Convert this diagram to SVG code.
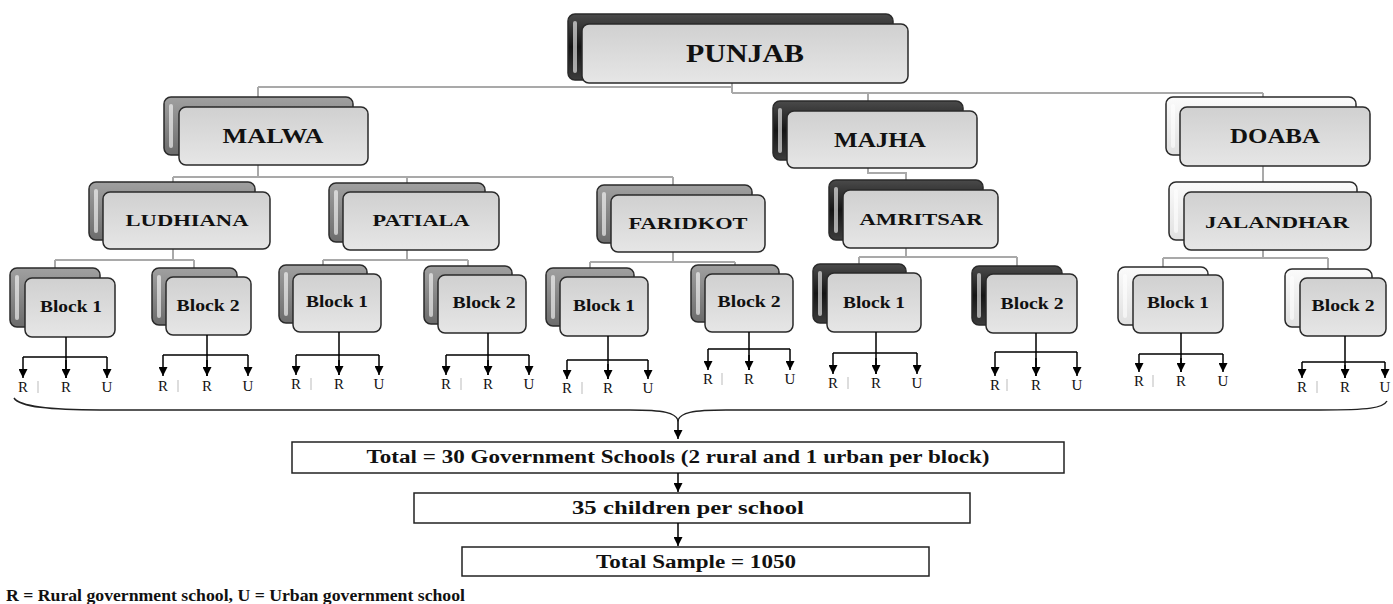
<svg xmlns="http://www.w3.org/2000/svg" width="1393" height="604" viewBox="0 0 1393 604">
<defs>
<linearGradient id="gDark" x1="0" y1="0" x2="0" y2="1"><stop offset="0" stop-color="#4a4a4a"/><stop offset="0.5" stop-color="#151515"/><stop offset="1" stop-color="#3c3c3c"/></linearGradient>
<linearGradient id="gMid" x1="0" y1="0" x2="0" y2="1"><stop offset="0" stop-color="#a0a0a0"/><stop offset="1" stop-color="#6c6c6c"/></linearGradient>
<linearGradient id="gLight" x1="0" y1="0" x2="0" y2="1"><stop offset="0" stop-color="#fbfbfb"/><stop offset="1" stop-color="#e0e0e0"/></linearGradient>
<linearGradient id="gFront" x1="0" y1="0" x2="0" y2="1"><stop offset="0" stop-color="#d0d0d0"/><stop offset="1" stop-color="#e6e6e6"/></linearGradient>
<marker id="ah" viewBox="0 0 10 10" refX="10" refY="5" markerWidth="9" markerHeight="9" orient="auto" markerUnits="userSpaceOnUse"><path d="M0,0 L10,5 L0,10 z" fill="#000"/></marker>
</defs>
<style>
.back{stroke:#2a2a2a;stroke-width:1.5}
.dark{fill:url(#gDark)}
.mid{fill:url(#gMid)}
.light{fill:url(#gLight)}
.hl{fill:#ffffff;opacity:0.6}
.front{fill:url(#gFront);stroke:#2a2a2a;stroke-width:1.5}
.t{font-family:"Liberation Serif","Times New Roman",serif;font-weight:bold;fill:#111;text-anchor:middle}
.b{font-size:16.5px}
.conn{fill:none;stroke:#a9a9a9;stroke-width:2}
.arr{fill:none;stroke:#000;stroke-width:1.5}
.lbl{font-family:"Liberation Serif","Times New Roman",serif;font-size:15px;fill:#111;text-anchor:middle}
.cur{stroke:#bbbbbb;stroke-width:1}
.box{fill:#fff;stroke:#222;stroke-width:1.5}
</style>
<rect width="1393" height="604" fill="#fff"/>

<g id="connectors">
<path class="conn" d="M732,83V93M258,87H732M732,93H1263M258,87V97M868,93V101M1263,93V97"/>
<path class="conn" d="M258,165V177M173,177H673M173,177V182M407,177V183M673,177V185"/>
<path class="conn" d="M868,168V173H906V180"/>
<path class="conn" d="M1263,166V182"/>
<path class="conn" d="M173,249V260M55,260H194M55,260V268M194,260V268"/>
<path class="conn" d="M407,250V260M323,260H468M323,260V265M468,260V266"/>
<path class="conn" d="M673,252V262M590,262H735M590,262V268M735,262V265"/>
<path class="conn" d="M906,248V257M859,257H1017M859,257V264M1017,257V266"/>
<path class="conn" d="M1263,250V258M1163,258H1328M1163,258V267M1328,258V269"/>
</g>

<g id="punjab"><rect class="back dark" x="568" y="14" width="325" height="66" rx="7"/><rect class="hl" x="573" y="21" width="4" height="52" rx="2"/><rect class="front" x="582" y="24" width="326" height="59" rx="7"/><text class="t" x="745" y="62" font-size="25" textLength="118" lengthAdjust="spacingAndGlyphs">PUNJAB</text></g>

<g id="malwa"><rect class="back mid" x="164" y="97" width="189" height="58" rx="7"/><rect class="hl" x="169" y="104" width="4" height="44" rx="2"/><rect class="front" x="179" y="107" width="189" height="58" rx="7"/><text class="t" x="273" y="143" font-size="20" textLength="101" lengthAdjust="spacingAndGlyphs">MALWA</text></g>
<g id="majha"><rect class="back dark" x="773" y="101" width="190" height="59" rx="7"/><rect class="hl" x="778" y="108" width="4" height="45" rx="2"/><rect class="front" x="787" y="111" width="190" height="57" rx="7"/><text class="t" x="880" y="147" font-size="20" textLength="92" lengthAdjust="spacingAndGlyphs">MAJHA</text></g>
<g id="doaba"><rect class="back light" x="1166" y="97" width="190" height="58" rx="7"/><rect class="hl" x="1171" y="104" width="4" height="44" rx="2"/><rect class="front" x="1180" y="107" width="190" height="59" rx="7"/><text class="t" x="1275" y="143" font-size="20" textLength="90" lengthAdjust="spacingAndGlyphs">DOABA</text></g>

<g id="ludhiana"><rect class="back mid" x="89" y="182" width="166" height="58" rx="7"/><rect class="hl" x="94" y="189" width="4" height="44" rx="2"/><rect class="front" x="103" y="192" width="167" height="57" rx="7"/><text class="t" x="187" y="226" font-size="17.5" textLength="123" lengthAdjust="spacingAndGlyphs">LUDHIANA</text></g>
<g id="patiala"><rect class="back mid" x="329" y="183" width="156" height="59" rx="7"/><rect class="hl" x="334" y="190" width="4" height="45" rx="2"/><rect class="front" x="343" y="192" width="156" height="58" rx="7"/><text class="t" x="421" y="226" font-size="17.5" textLength="97" lengthAdjust="spacingAndGlyphs">PATIALA</text></g>
<g id="faridkot"><rect class="back mid" x="597" y="185" width="155" height="58" rx="7"/><rect class="hl" x="602" y="192" width="4" height="44" rx="2"/><rect class="front" x="611" y="195" width="154" height="57" rx="7"/><text class="t" x="688" y="229" font-size="17.5" textLength="119" lengthAdjust="spacingAndGlyphs">FARIDKOT</text></g>
<g id="amritsar"><rect class="back dark" x="829" y="180" width="154" height="60" rx="7"/><rect class="hl" x="834" y="187" width="4" height="46" rx="2"/><rect class="front" x="843" y="190" width="155" height="58" rx="7"/><text class="t" x="921" y="225" font-size="17.5" textLength="123" lengthAdjust="spacingAndGlyphs">AMRITSAR</text></g>
<g id="jalandhar"><rect class="back light" x="1169" y="182" width="188" height="58" rx="7"/><rect class="hl" x="1174" y="189" width="4" height="44" rx="2"/><rect class="front" x="1184" y="192" width="187" height="58" rx="7"/><text class="t" x="1277" y="228" font-size="17.5" textLength="144" lengthAdjust="spacingAndGlyphs">JALANDHAR</text></g>

<g id="ludhiana-block1"><rect class="back mid" x="10" y="268" width="90" height="59" rx="7"/><rect class="hl" x="15" y="275" width="4" height="45" rx="2"/><rect class="front" x="25" y="278" width="90" height="59" rx="7"/><text class="t b" x="71" y="312" textLength="62" lengthAdjust="spacingAndGlyphs">Block 1</text></g>
<g id="ludhiana-block2"><rect class="back mid" x="152" y="268" width="85" height="57" rx="7"/><rect class="hl" x="157" y="275" width="4" height="43" rx="2"/><rect class="front" x="166" y="277" width="85" height="58" rx="7"/><text class="t b" x="208" y="311" textLength="63" lengthAdjust="spacingAndGlyphs">Block 2</text></g>
<g id="patiala-block1"><rect class="back mid" x="279" y="265" width="88" height="58" rx="7"/><rect class="hl" x="284" y="272" width="4" height="44" rx="2"/><rect class="front" x="293" y="274" width="88" height="58" rx="7"/><text class="t b" x="337" y="307" textLength="62" lengthAdjust="spacingAndGlyphs">Block 1</text></g>
<g id="patiala-block2"><rect class="back mid" x="424" y="266" width="88" height="58" rx="7"/><rect class="hl" x="429" y="273" width="4" height="44" rx="2"/><rect class="front" x="438" y="275" width="88" height="58" rx="7"/><text class="t b" x="484" y="308" textLength="63" lengthAdjust="spacingAndGlyphs">Block 2</text></g>
<g id="faridkot-block1"><rect class="back mid" x="546" y="268" width="88" height="58" rx="7"/><rect class="hl" x="551" y="275" width="4" height="44" rx="2"/><rect class="front" x="560" y="277" width="88" height="59" rx="7"/><text class="t b" x="604" y="311" textLength="62" lengthAdjust="spacingAndGlyphs">Block 1</text></g>
<g id="faridkot-block2"><rect class="back mid" x="691" y="265" width="88" height="57" rx="7"/><rect class="hl" x="696" y="272" width="4" height="43" rx="2"/><rect class="front" x="705" y="274" width="88" height="58" rx="7"/><text class="t b" x="749" y="307" textLength="63" lengthAdjust="spacingAndGlyphs">Block 2</text></g>
<g id="amritsar-block1"><rect class="back dark" x="813" y="264" width="93" height="59" rx="7"/><rect class="hl" x="818" y="271" width="4" height="45" rx="2"/><rect class="front" x="827" y="273" width="94" height="59" rx="7"/><text class="t b" x="874" y="308" textLength="62" lengthAdjust="spacingAndGlyphs">Block 1</text></g>
<g id="amritsar-block2"><rect class="back dark" x="972" y="266" width="90" height="59" rx="7"/><rect class="hl" x="977" y="273" width="4" height="45" rx="2"/><rect class="front" x="986" y="274" width="91" height="59" rx="7"/><text class="t b" x="1032" y="309" textLength="63" lengthAdjust="spacingAndGlyphs">Block 2</text></g>
<g id="jalandhar-block1"><rect class="back light" x="1118" y="267" width="90" height="58" rx="7"/><rect class="hl" x="1123" y="274" width="4" height="44" rx="2"/><rect class="front" x="1133" y="275" width="90" height="58" rx="7"/><text class="t b" x="1178" y="308" textLength="62" lengthAdjust="spacingAndGlyphs">Block 1</text></g>
<g id="jalandhar-block2"><rect class="back light" x="1285" y="269" width="87" height="58" rx="7"/><rect class="hl" x="1290" y="276" width="4" height="44" rx="2"/><rect class="front" x="1300" y="278" width="86" height="58" rx="7"/><text class="t b" x="1343" y="311" textLength="63" lengthAdjust="spacingAndGlyphs">Block 2</text></g>

<g id="school-arrows">
<path class="arr" d="M23,357H107M66,337V378"/><path class="arr" marker-end="url(#ah)" d="M23,357V378"/><path class="arr" marker-end="url(#ah)" d="M66,360V378"/><path class="arr" marker-end="url(#ah)" d="M107,357V378"/>
<path class="arr" d="M163,355H248M207,335V376"/><path class="arr" marker-end="url(#ah)" d="M163,355V376"/><path class="arr" marker-end="url(#ah)" d="M207,360V376"/><path class="arr" marker-end="url(#ah)" d="M248,355V376"/>
<path class="arr" d="M296,355H379M339,332V375"/><path class="arr" marker-end="url(#ah)" d="M296,355V375"/><path class="arr" marker-end="url(#ah)" d="M339,360V375"/><path class="arr" marker-end="url(#ah)" d="M379,355V375"/>
<path class="arr" d="M446,355H529M488,333V375"/><path class="arr" marker-end="url(#ah)" d="M446,355V375"/><path class="arr" marker-end="url(#ah)" d="M488,360V375"/><path class="arr" marker-end="url(#ah)" d="M529,355V375"/>
<path class="arr" d="M567,360H648M608,336V379"/><path class="arr" marker-end="url(#ah)" d="M567,360V379"/><path class="arr" marker-end="url(#ah)" d="M608,364V379"/><path class="arr" marker-end="url(#ah)" d="M648,360V379"/>
<path class="arr" d="M708,349H790M749,332V370"/><path class="arr" marker-end="url(#ah)" d="M708,349V370"/><path class="arr" marker-end="url(#ah)" d="M749,355V370"/><path class="arr" marker-end="url(#ah)" d="M790,349V370"/>
<path class="arr" d="M833,353H917M876,332V374"/><path class="arr" marker-end="url(#ah)" d="M833,353V374"/><path class="arr" marker-end="url(#ah)" d="M876,358V374"/><path class="arr" marker-end="url(#ah)" d="M917,353V374"/>
<path class="arr" d="M995,352H1077M1036,333V376"/><path class="arr" marker-end="url(#ah)" d="M995,352V376"/><path class="arr" marker-end="url(#ah)" d="M1036,358V376"/><path class="arr" marker-end="url(#ah)" d="M1077,352V376"/>
<path class="arr" d="M1139,354H1223M1181,333V372"/><path class="arr" marker-end="url(#ah)" d="M1139,354V372"/><path class="arr" marker-end="url(#ah)" d="M1181,358V372"/><path class="arr" marker-end="url(#ah)" d="M1223,354V372"/>
<path class="arr" d="M1302,362H1385M1345,336V378"/><path class="arr" marker-end="url(#ah)" d="M1302,362V378"/><path class="arr" marker-end="url(#ah)" d="M1345,365V378"/><path class="arr" marker-end="url(#ah)" d="M1385,362V378"/>
</g>

<g id="school-labels">
<text class="lbl" x="23" y="392">R</text><text class="lbl" x="66" y="392">R</text><text class="lbl" x="107" y="392">U</text><path class="cur" d="M38,381V393"/>
<text class="lbl" x="163" y="391">R</text><text class="lbl" x="207" y="391">R</text><text class="lbl" x="248" y="391">U</text><path class="cur" d="M178,380V392"/>
<text class="lbl" x="296" y="389">R</text><text class="lbl" x="339" y="389">R</text><text class="lbl" x="379" y="389">U</text><path class="cur" d="M311,378V390"/>
<text class="lbl" x="446" y="389">R</text><text class="lbl" x="488" y="389">R</text><text class="lbl" x="529" y="389">U</text><path class="cur" d="M461,378V390"/>
<text class="lbl" x="567" y="393">R</text><text class="lbl" x="608" y="393">R</text><text class="lbl" x="648" y="393">U</text><path class="cur" d="M582,382V394"/>
<text class="lbl" x="708" y="384">R</text><text class="lbl" x="749" y="384">R</text><text class="lbl" x="790" y="384">U</text><path class="cur" d="M722,373V385"/>
<text class="lbl" x="833" y="388">R</text><text class="lbl" x="876" y="388">R</text><text class="lbl" x="917" y="388">U</text><path class="cur" d="M848,377V389"/>
<text class="lbl" x="995" y="390">R</text><text class="lbl" x="1036" y="390">R</text><text class="lbl" x="1077" y="390">U</text><path class="cur" d="M1007,379V391"/>
<text class="lbl" x="1139" y="386">R</text><text class="lbl" x="1181" y="386">R</text><text class="lbl" x="1223" y="386">U</text><path class="cur" d="M1153,375V387"/>
<text class="lbl" x="1302" y="392">R</text><text class="lbl" x="1345" y="392">R</text><text class="lbl" x="1385" y="392">U</text><path class="cur" d="M1317,381V393"/>
</g>

<g id="brace">
<path fill="none" stroke="#222" stroke-width="1.5" d="M14,398 C20,407 50,410 100,410 L630,410 C665,410 675,413 678,420 C681,413 691,410 726,410 L1320,410 C1370,410 1383,408 1387,401"/>
<path class="arr" marker-end="url(#ah)" d="M678,420V439"/>
</g>

<g id="total-schools"><rect class="box" x="292" y="442" width="772" height="31"/><text class="t" x="678" y="463" font-size="18" textLength="623" lengthAdjust="spacingAndGlyphs">Total = 30 Government Schools (2 rural and 1 urban per block)</text></g>
<g id="arrow-2"><path class="arr" marker-end="url(#ah)" d="M678,473V492"/></g>
<g id="children"><rect class="box" x="414" y="493" width="556" height="30"/><text class="t" x="688" y="514" font-size="18" textLength="232" lengthAdjust="spacingAndGlyphs">35 children per school</text></g>
<g id="arrow-3"><path class="arr" marker-end="url(#ah)" d="M678,523V546"/></g>
<g id="sample"><rect class="box" x="462" y="547" width="467" height="29"/><text class="t" x="696" y="568" font-size="18" textLength="200" lengthAdjust="spacingAndGlyphs">Total Sample = 1050</text></g>

<text class="t" x="6" y="601" font-size="17" style="text-anchor:start" textLength="459" lengthAdjust="spacingAndGlyphs">R = Rural government school, U = Urban government school</text>
</svg>
